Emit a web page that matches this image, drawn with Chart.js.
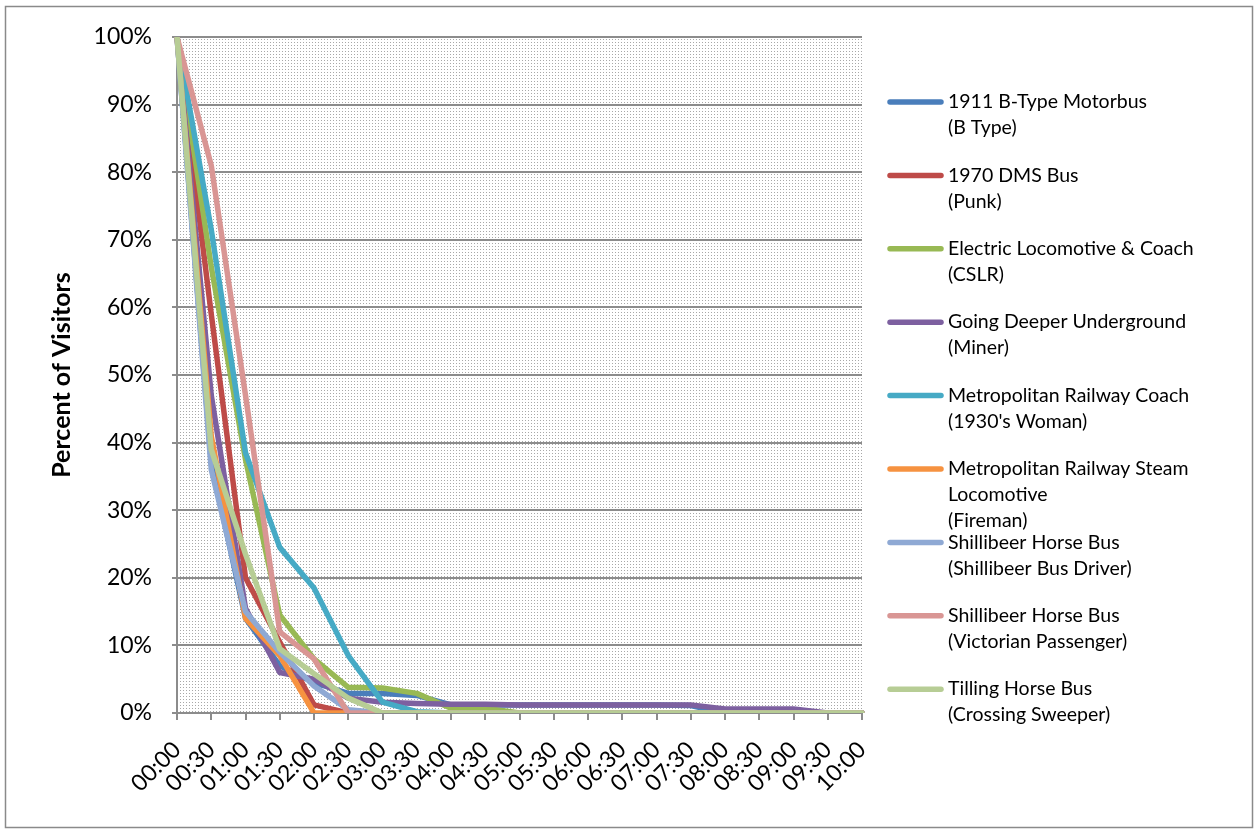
<!DOCTYPE html>
<html><head><meta charset="utf-8">
<script src="https://cdn.jsdelivr.net/npm/chart.js@4.4.1/dist/chart.umd.min.js"></script>
<style>html,body{margin:0;padding:0;background:#fff}#wrap{width:1255px;height:830px;position:relative}</style>
</head><body><div id="wrap"><canvas id="c" width="1255" height="830"></canvas></div>
<script>
// ---- data ----
const timeLabels = ['00:00','00:30','01:00','01:30','02:00','02:30','03:00','03:30','04:00','04:30','05:00','05:30','06:00','06:30','07:00','07:30','08:00','08:30','09:00','09:30','10:00'];
const seriesNames = [
  ['1911 B-Type Motorbus','(B Type)'],
  ['1970 DMS Bus','(Punk)'],
  ['Electric Locomotive & Coach','(CSLR)'],
  ['Going Deeper Underground','(Miner)'],
  ['Metropolitan Railway Coach',"(1930's Woman)"],
  ['Metropolitan Railway Steam','Locomotive','(Fireman)'],
  ['Shillibeer Horse Bus','(Shillibeer Bus Driver)'],
  ['Shillibeer Horse Bus','(Victorian Passenger)'],
  ['Tilling Horse Bus','(Crossing Sweeper)']
];
const seriesColors = ['#4A7EBB','#BE4B48','#98B954','#7D60A0','#46AAC5','#F69240','#8FA9D4','#D99694','#B7CD95'];
const bType     = [100,37,14,7,4.5,2.9,2.9,2.6,1.2,1.2,1.2,1.2,1.2,1.2,1.2,1.1,0,0,0,0,0];
const punk      = [100,59,20,10.5,1.2,0,0,0,0,0,0,0,0,0,0,0,0,0,0,0,0];
const cslr      = [100,66,37.5,14.5,8,3.8,3.7,2.9,0.7,0.7,0,0,0,0,0,0,0,0,0,0,0];
const miner     = [100,47,15.5,6,5,2.2,1.6,1.4,1.3,1.3,1.2,1.2,1.2,1.2,1.2,1.2,0.6,0.6,0.6,0,0];
const woman1930 = [100,71.5,38.5,24.5,18.5,8.5,1.6,0.2,0,0,0,0,0,0,0,0,0,0,0,0,0];
const fireman   = [100,41,14,8.5,0,0,0,0,0,0,0,0,0,0,0,0,0,0,0,0,0];
const busDriver = [100,36,15,9,4,0.5,0,0,0,0,0,0,0,0,0,0,0,0,0,0,0];
const victorian = [100,81,47,12,8,0,0,0,0,0,0,0,0,0,0,0,0,0,0,0,0];
const sweeper   = [100,39,23.5,9.5,5.8,2.2,0,0,0,0,0,0,0,0,0,0,0,0,0,0,0];
const seriesValues = [bType,punk,cslr,miner,woman1930,fireman,busDriver,victorian,sweeper];
const yAxisTitle = 'Percent of Visitors';

const FONT = 'Lato, "Open Sans", sans-serif';
const GRID = '#8c8c8c';

function makePattern(ctx){
  const c = document.createElement('canvas'); c.width = 3; c.height = 3;
  const p = c.getContext('2d');
  p.fillStyle = '#ffffff'; p.fillRect(0,0,3,3);
  p.fillStyle = '#a8a8a8'; p.fillRect(0,0,1,1);
  return ctx.createPattern(c,'repeat');
}

const bgPlugin = {
  id: 'bg',
  beforeDraw(chart){
    const {ctx, chartArea:a} = chart;
    ctx.save();
    ctx.fillStyle = '#fff'; ctx.fillRect(0,0,chart.width,chart.height);
    ctx.strokeStyle = '#8a8a8a'; ctx.lineWidth = 1.5;
    ctx.strokeRect(5.5,6.5,1247,821);
    ctx.fillStyle = makePattern(ctx);
    ctx.fillRect(a.left, a.top, a.right - a.left, a.bottom - a.top);
    ctx.restore();
  }
};

const legendPlugin = {
  id: 'sideLegend',
  afterDraw(chart){
    const ctx = chart.ctx;
    ctx.save();
    ctx.font = '19.5px ' + FONT;
    ctx.textBaseline = 'middle';
    ctx.textAlign = 'left';
    chart.data.datasets.forEach((ds, i) => {
      const y0 = 102 + i * 73.4;
      ctx.strokeStyle = ds.borderColor; ctx.lineWidth = 5.5; ctx.lineCap = 'round';
      ctx.beginPath(); ctx.moveTo(890, y0); ctx.lineTo(941, y0); ctx.stroke();
      ctx.fillStyle = '#000';
      ds.legendLines.forEach((t, k) => ctx.fillText(t, 948, y0 + k * 26));
    });
    ctx.restore();
  }
};

const datasets = seriesValues.map((vals, i) => ({
  label: seriesNames[i].join(' '),
  legendLines: seriesNames[i],
  data: vals,
  borderColor: seriesColors[i],
  backgroundColor: seriesColors[i],
  borderWidth: 5.5,
  pointRadius: 0,
  tension: 0,
  borderJoinStyle: 'round',
  borderCapStyle: 'round',
  fill: false,
  order: seriesValues.length - 1 - i
}));

new Chart(document.getElementById('c'), {
  type: 'line',
  data: { labels: timeLabels, datasets },
  plugins: [bgPlugin, legendPlugin],
  options: {
    responsive: false,
    animation: false,
    devicePixelRatio: 1,
    layout: { padding: { left: 0, right: 393, top: 37, bottom: 0 } },
    plugins: { legend: { display: false }, tooltip: { enabled: false } },
    scales: {
      x: {
        grid: { display: true, drawOnChartArea: false, drawTicks: true, tickLength: 7, color: GRID, lineWidth: 2 },
        border: { display: true, color: GRID, width: 2 },
        ticks: { minRotation: 45, maxRotation: 45, autoSkip: false, color: '#000', font: { family: FONT, size: 23 }, padding: 16 },
        afterFit(scale){ scale.height = 117; }
      },
      y: {
        min: 0, max: 100,
        ticks: { stepSize: 10, callback: v => v + '%', color: '#000', font: { family: FONT, size: 23 }, padding: 20 },
        grid: { color: GRID, lineWidth: 2, drawTicks: true, tickLength: 5 },
        border: { display: true, color: GRID, width: 2 },
        title: { display: true, text: yAxisTitle, color: '#000', font: { family: FONT, size: 25, weight: 'bold' }, padding: { top: 47, bottom: 0 } },
        afterFit(scale){ scale.width = 177; }
      }
    }
  }
});
</script></body></html>
